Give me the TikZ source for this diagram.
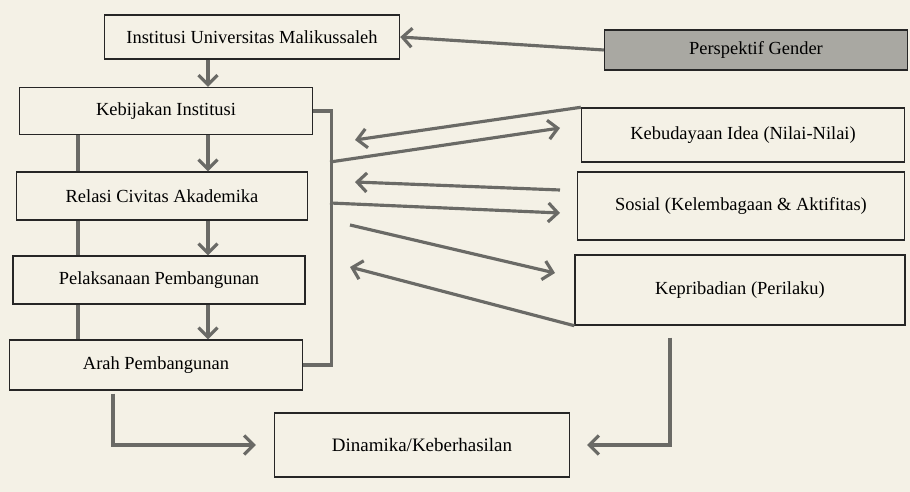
\documentclass[tikz,border=0pt]{standalone}
\usepackage{fontspec}
\setmainfont{Liberation Serif}
\usetikzlibrary{arrows.meta}
\definecolor{paper}{HTML}{F4F1E6}
\definecolor{shade}{HTML}{A9A8A2}
\definecolor{wire}{HTML}{6A6A66}
\begin{document}
\begin{tikzpicture}[x=0.2mm,y=-0.2mm,
 box/.style={draw=black!85,line width=0.8pt,fill=paper,inner sep=0pt,font=\fontsize{10.5}{12}\selectfont},
 arr/.style={draw=wire,line width=1.8pt,-{Straight Barb[length=1.9mm,width=3.8mm]}},
 ln/.style={draw=wire,line width=1.8pt}]
 \fill[paper] (0,0) rectangle (910,492);
 \useasboundingbox (0,0) rectangle (910,492);
 % left column
 \node[box,minimum width=59mm,minimum height=8.8mm] (inst) at (252,37) {Institusi Universitas Malikussaleh};
 \node[box,minimum width=58.6mm,minimum height=9.4mm] (kebijakan) at (166,111) {Kebijakan Institusi};
 \node[box,minimum width=58.2mm,minimum height=9.6mm] (relasi) at (162,196) {Relasi Civitas Akademika};
 \node[box,minimum width=58.4mm,minimum height=9.6mm] (pelaksanaan) at (159,280) {Pelaksanaan Pembangunan};
 \node[box,minimum width=58.6mm,minimum height=10mm] (arah) at (156,365) {Arah Pembangunan};
 % right column
 \node[box,fill=shade,minimum width=60.6mm,minimum height=8mm] (gender) at (756,50) {Perspektif Gender};
 \node[box,minimum width=64.6mm,minimum height=10.8mm] (budaya) at (743,135) {Kebudayaan Idea (Nilai-Nilai)};
 \node[box,minimum width=65.4mm,minimum height=13.6mm] (sosial) at (741,206) {Sosial (Kelembagaan \& Aktifitas)};
 \node[box,minimum width=66mm,minimum height=14mm] (pribadi) at (740,290) {Kepribadian (Perilaku)};
 \node[box,font=\fontsize{10.8}{13}\selectfont,minimum width=59mm,minimum height=12.8mm] (dinamika) at (422,445) {Dinamika/Keberhasilan};
 % helper coordinates
 \coordinate (ax) at (208,0);
 \coordinate (lx) at (78,0);
 \coordinate (dx) at (113,0);
 \coordinate (px) at (670,0);
 \coordinate (b1) at (330,162);
 \coordinate (b2) at (330,203);
 \coordinate (t1) at (355,140);
 \coordinate (t2) at (560,128);
 \coordinate (s1) at (560,190);
 \coordinate (s2) at (355,182);
 \coordinate (s3) at (560,213);
 \coordinate (k1) at (350,225);
 \coordinate (k2) at (555,273);
 \coordinate (k3) at (350,267);
 % downward chain
 \draw[arr] (gender.west) -- (inst.east);
 \draw[arr] (ax |- inst.south) -- (ax |- kebijakan.north);
 \draw[arr] (ax |- kebijakan.south) -- (ax |- relasi.north);
 \draw[arr] (ax |- relasi.south) -- (ax |- pelaksanaan.north);
 \draw[arr] (ax |- pelaksanaan.south) -- (ax |- arah.north);
 \draw[ln] (lx |- kebijakan.south) -- (lx |- relasi.north);
 \draw[ln] (lx |- relasi.south) -- (lx |- pelaksanaan.north);
 \draw[ln] (lx |- pelaksanaan.south) -- (lx |- arah.north);
 % bracket and exchanges
 \draw[ln] (kebijakan.east) -- ++(18,0) |- (arah.east);
 \draw[arr] (budaya.north west) -- (t1);
 \draw[arr] (b1) -- (t2);
 \draw[arr] (s1) -- (s2);
 \draw[arr] (b2) -- (s3);
 \draw[arr] (k1) -- (k2);
 \draw[arr] (pribadi.south west) -- (k3);
 % to the outcome
 \draw[arr,shorten <=0.6mm,shorten >=3.6mm] (dx |- arah.south) |- (dinamika.west);
 \draw[arr,shorten <=2.4mm,shorten >=3.4mm] (px |- pribadi.south) |- (dinamika.east);
\end{tikzpicture}
\end{document}
